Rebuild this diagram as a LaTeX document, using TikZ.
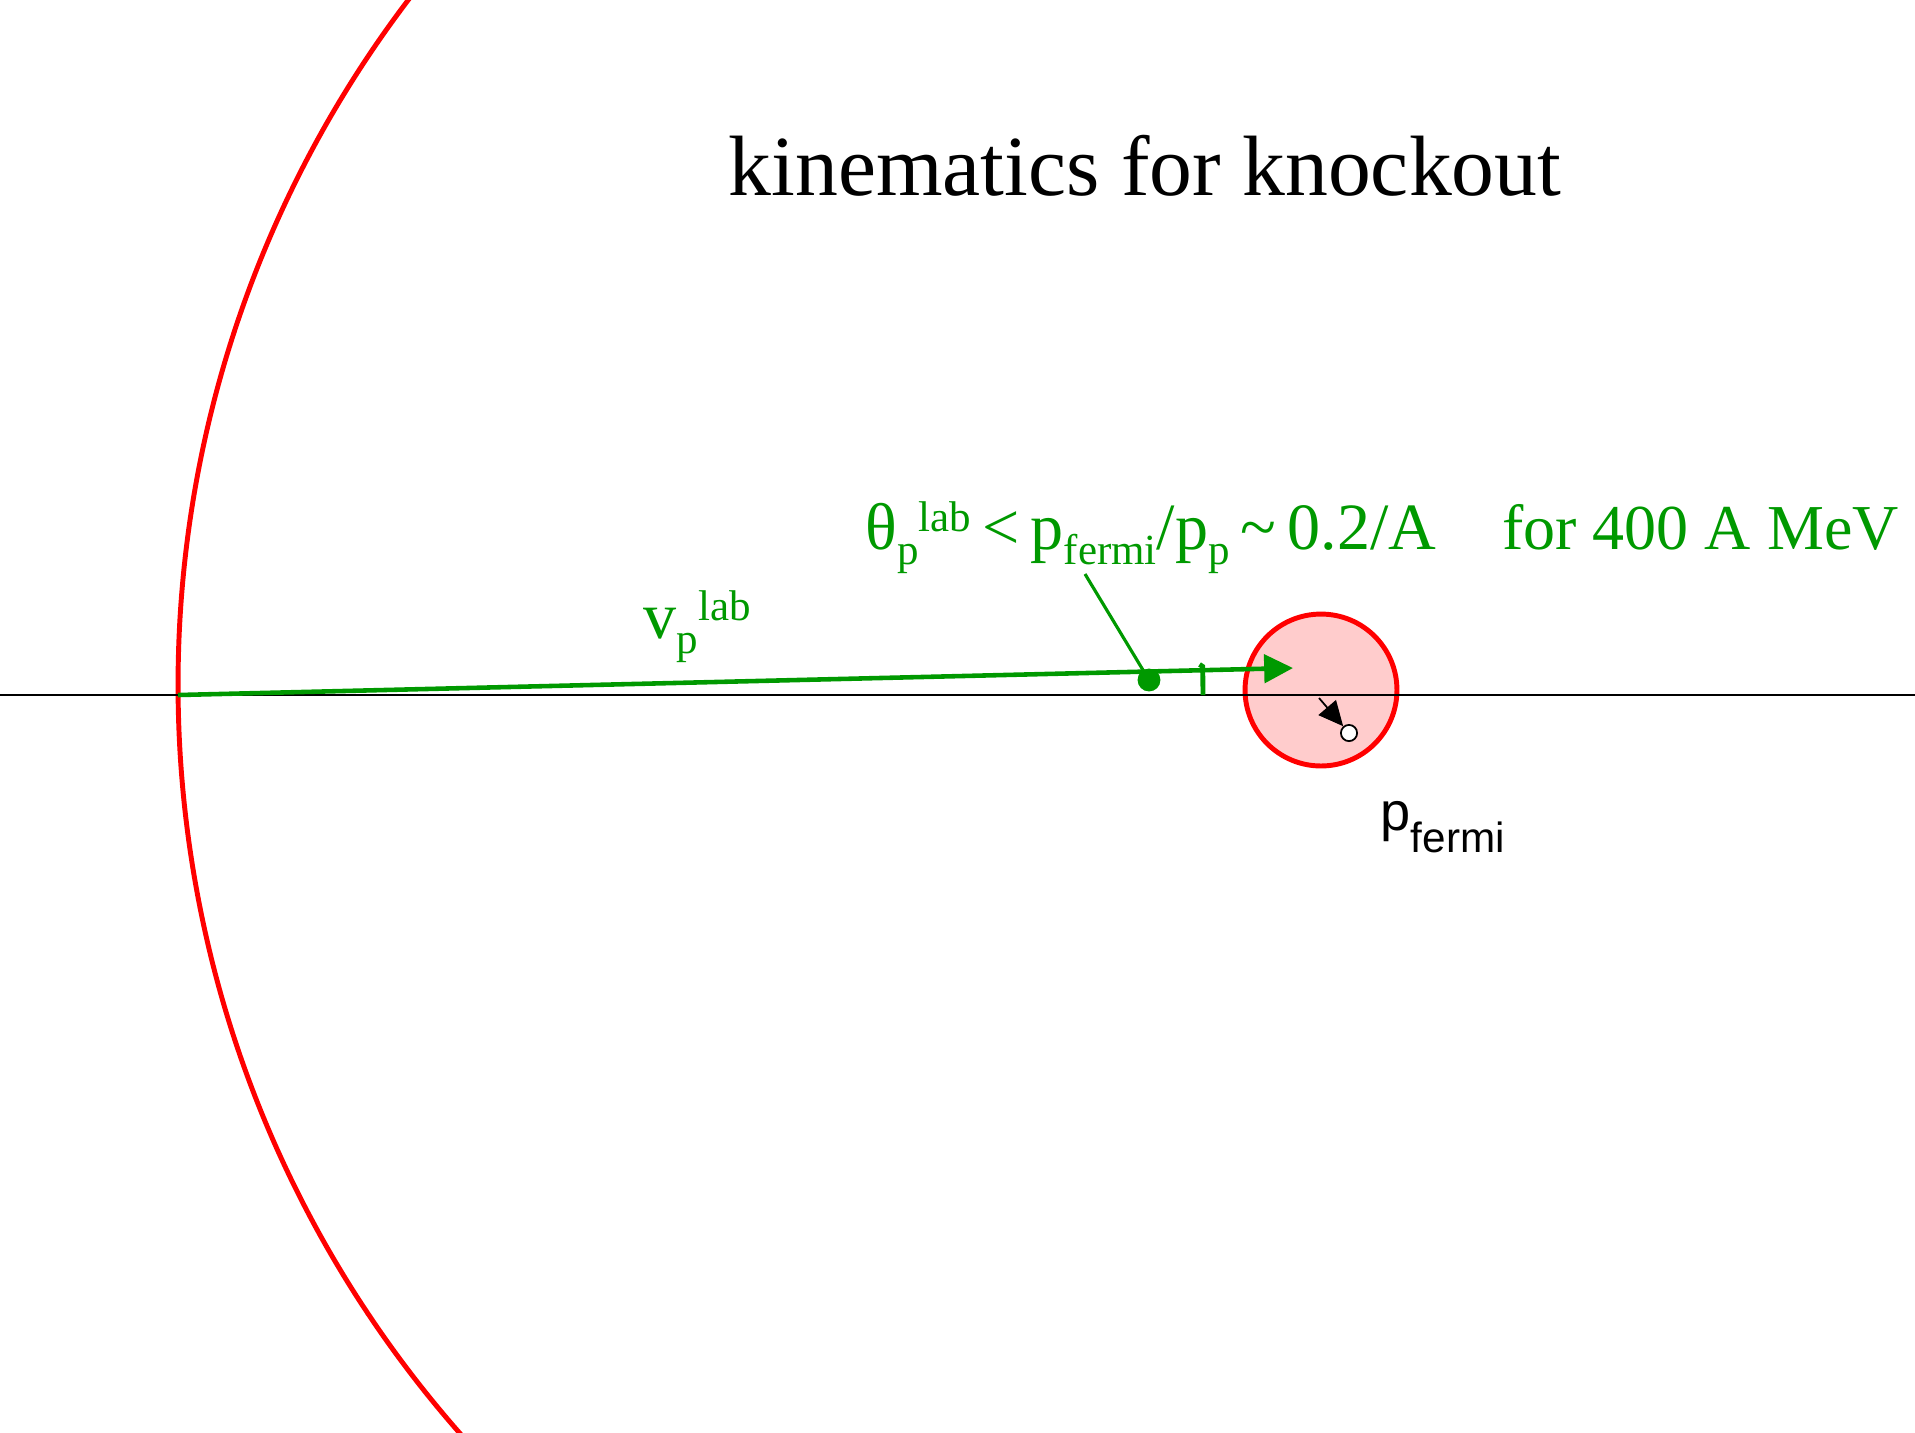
\documentclass[tikz,border=0pt]{standalone}
\usepackage{fontspec}
\setmainfont{Liberation Serif}
\newfontfamily\arialfont{Liberation Sans}
\usetikzlibrary{arrows.meta}
\definecolor{kgreen}{RGB}{0,153,0}
\definecolor{kpink}{RGB}{255,204,204}
% small raised / lowered text, as the slide sets it
\newcommand{\lowtx}[1]{\raisebox{-0.24em}{\scalebox{0.65}{#1}}}
\newcommand{\hightx}[1]{\raisebox{0.26em}{\scalebox{0.65}{#1}}}
\begin{document}
\begin{tikzpicture}[x=0.01cm,y=-0.01cm,
  lbl/.style={inner sep=0pt,anchor=base west},
  vline/.style={kgreen,line width=1.3pt},
  sphere/.style={circle,draw=red,fill=kpink,line width=1.4pt,inner sep=0pt,minimum size=43.2pt}]
\clip (0,0) rectangle (1915,1432);
% coordinates
\coordinate (origin) at (178,695);
\coordinate (vtip) at (1293,668);
\coordinate (axisL) at (0,695);
\coordinate (axisR) at (1915,695);
\coordinate (ptr) at (1085,574);
\coordinate (kick) at (1319,698);
% big sphere and fermi sphere
\draw[red,line width=1.4pt] (1312,685) ++(135:1134) arc[start angle=135,end angle=222,radius=1134];
\node (fermi) [sphere] at (1321,690) {};
\draw[line width=0.6pt] (axisL) -- (axisR);
% proton velocity
\draw[vline,-{Triangle[length=8.2pt,width=8pt]}] (origin) -- (vtip);
\draw[kgreen,line width=1.4pt] (1203,695) arc[start angle=0,end angle=-1.6,radius=1025]
  -- ++(-3,-2);
\node (dot) [circle,fill=kgreen,inner sep=0pt,minimum size=6.5pt] at (1149,680) {};
\draw[kgreen,line width=0.9pt] (ptr) -- (dot.center);
% nucleon in fermi sphere
\node (nucl) [circle,draw,fill=white,line width=0.5pt,inner sep=0pt,minimum size=4.6pt] at (1349,733) {};
\draw[line width=0.5pt,-{Triangle[length=7pt,width=6.5pt]}] (kick) -- (nucl);
% texts
\node (title) [inner sep=0pt,anchor=base] at (1145,195) {\fontsize{24.35}{30}\selectfont kinematics for knockout};
\node (cond) [lbl,text=kgreen] at (865,549) {\fontsize{18.8}{22}\selectfont
  θ\lowtx{p}\hightx{lab}\,<\,p\lowtx{fermi}/p\lowtx{p}\,\textasciitilde\,0.2/A\hspace{1em}\fontsize{18.2}{22}\selectfont for 400 A MeV};
\node (vlab) [lbl,text=kgreen] at (643,638) {\fontsize{18.8}{22}\selectfont v\lowtx{p}\hightx{lab}};
\node (pf) [lbl] at (1380,830) {\arialfont\fontsize{15.4}{18}\selectfont p\raisebox{-0.41em}{\scalebox{0.78}{fermi}}};
\end{tikzpicture}
\end{document}
